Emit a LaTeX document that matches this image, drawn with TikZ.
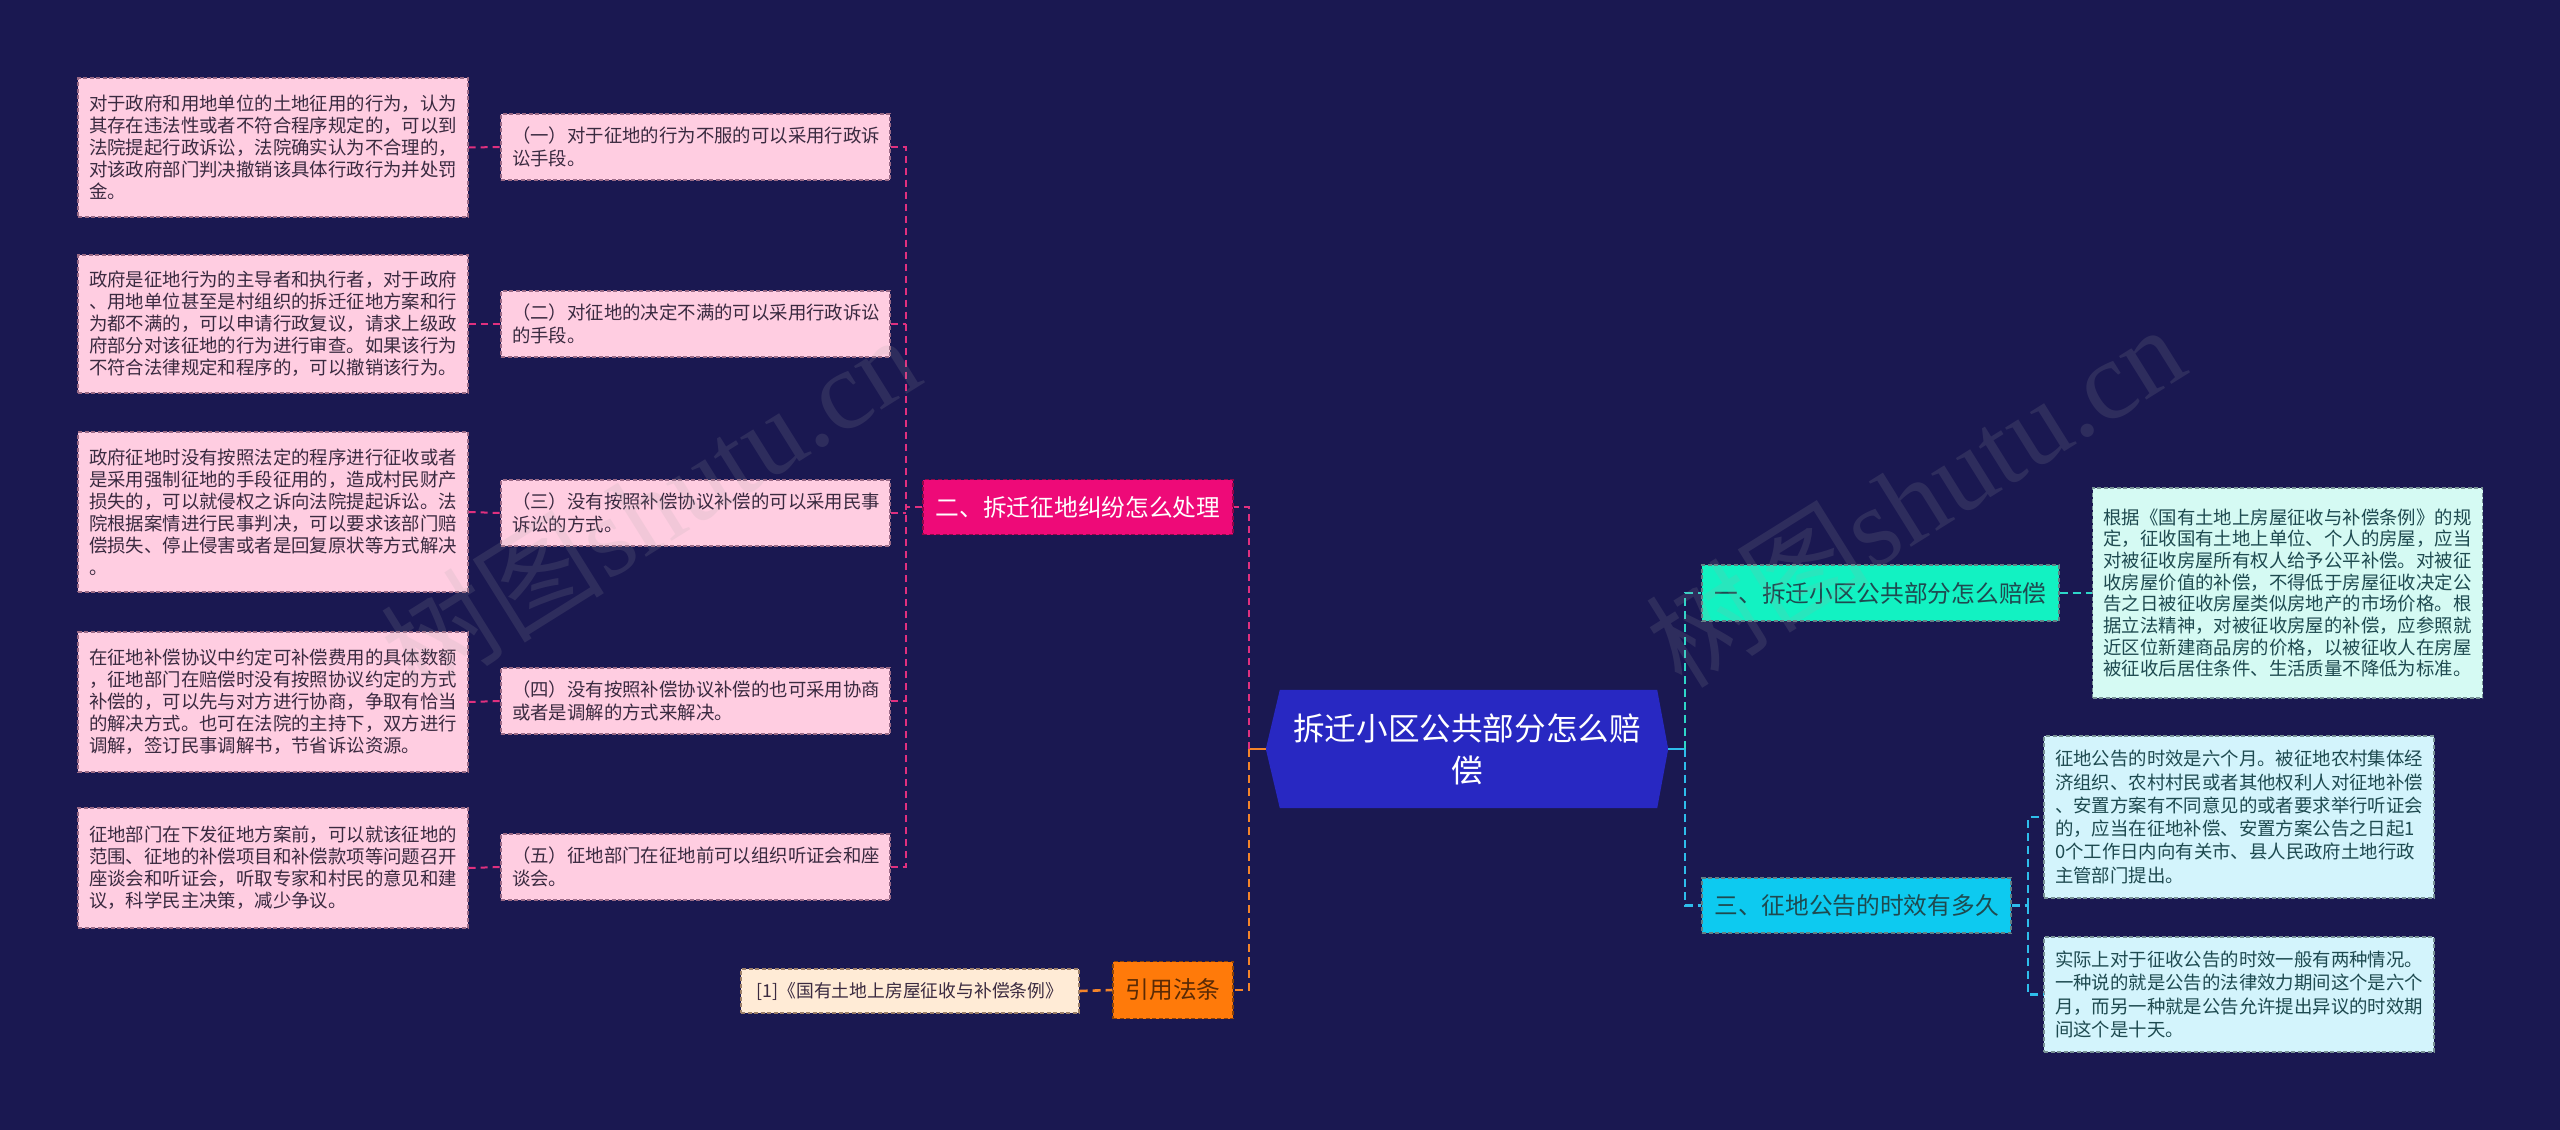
\documentclass[tikz,border=0pt]{standalone}
\usepackage{fontspec}
\setmainfont{Noto Sans CJK SC}
\newfontfamily\wmlatin{Liberation Serif}
\usetikzlibrary{calc}
\definecolor{bg}{HTML}{1A1851}
\definecolor{leafpink}{HTML}{FFCDE1}
\definecolor{leafpinkd}{HTML}{9A6A86}
\definecolor{pinktext}{HTML}{3A2A40}
\definecolor{pinkbranch}{HTML}{EE0A78}
\definecolor{pinkline}{HTML}{E0307F}
\definecolor{orangebox}{HTML}{FF7A0A}
\definecolor{orangeline}{HTML}{F4842A}
\definecolor{citefill}{HTML}{FFEBD6}
\definecolor{centerblue}{HTML}{2828C2}
\definecolor{tealbranch}{HTML}{12F2C2}
\definecolor{cyanbranch}{HTML}{0DCAF0}
\definecolor{tealline}{HTML}{2ED6C8}
\definecolor{cyanline}{HTML}{2EBDEB}
\definecolor{mintfill}{HTML}{D5FAF3}
\definecolor{skyfill}{HTML}{D3F4FC}
\definecolor{darkteal}{HTML}{1E4A50}
\definecolor{brownish}{HTML}{5A2A05}
\begin{document}
\begin{tikzpicture}[x=1pt,y=-1pt,
  box/.style={rectangle, line width=1.1pt, dash pattern=on 4pt off 2.5pt, anchor=center, inner ysep=0pt},
  leafL/.style={box, fill=leafpink, draw=leafpinkd, text=pinktext, align=left,
     text width=368pt, inner xsep=11pt, font=\fontsize{18.4}{22}\selectfont},
  midbox/.style={box, fill=leafpink, draw=leafpinkd, text=pinktext, align=left,
     text width=367pt, inner xsep=11pt, minimum height=66pt, font=\fontsize{18.4}{23}\selectfont},
  leafR/.style={box, draw=darkteal!60, text=darkteal, align=left,
     text width=368pt, inner xsep=11pt},
  branch/.style={box, inner xsep=0pt, align=center, font=\fontsize{23.7}{28}\selectfont},
  pline/.style={draw=pinkline, line width=2pt, dash pattern=on 7pt off 5pt},
  oline/.style={draw=orangeline, line width=2.6pt, dash pattern=on 8pt off 5pt},
  tline/.style={draw=tealline, line width=2.4pt, dash pattern=on 8pt off 5pt},
  cline/.style={draw=cyanline, line width=2.4pt, dash pattern=on 8pt off 5pt},
  wm/.style={rotate=32, opacity=0.15, text=gray!70, inner sep=0pt, font=\fontsize{112}{112}\selectfont}
]
\fill[bg] (0,0) rectangle (2560,1130);
\useasboundingbox (0,0) rectangle (2560,1130);

% ---------- left leaves ----------
\node[leafL, minimum height=139pt] (L1) at (273,147.5) {对于政府和用地单位的土地征用的行为，认为\\其存在违法性或者不符合程序规定的，可以到\\法院提起行政诉讼，法院确实认为不合理的，\\对该政府部门判决撤销该具体行政行为并处罚\\金。};
\node[leafL, minimum height=138pt] (L2) at (273,324) {政府是征地行为的主导者和执行者，对于政府\\、用地单位甚至是村组织的拆迁征地方案和行\\为都不满的，可以申请行政复议，请求上级政\\府部分对该征地的行为进行审查。如果该行为\\不符合法律规定和程序的，可以撤销该行为。};
\node[leafL, minimum height=160pt] (L3) at (273,512) {政府征地时没有按照法定的程序进行征收或者\\是采用强制征地的手段征用的，造成村民财产\\损失的，可以就侵权之诉向法院提起诉讼。法\\院根据案情进行民事判决，可以要求该部门赔\\偿损失、停止侵害或者是回复原状等方式解决\\。};
\node[leafL, minimum height=140pt] (L4) at (273,702) {在征地补偿协议中约定可补偿费用的具体数额\\，征地部门在赔偿时没有按照协议约定的方式\\补偿的，可以先与对方进行协商，争取有恰当\\的解决方式。也可在法院的主持下，双方进行\\调解，签订民事调解书，节省诉讼资源。};
\node[leafL, minimum height=120pt] (L5) at (273,868) {征地部门在下发征地方案前，可以就该征地的\\范围、征地的补偿项目和补偿款项等问题召开\\座谈会和听证会，听取专家和村民的意见和建\\议，科学民主决策，减少争议。};

% ---------- middle boxes ----------
\node[midbox] (M1) at (695.5,147) {（一）对于征地的行为不服的可以采用行政诉\\讼手段。};
\node[midbox] (M2) at (695.5,324) {（二）对征地的决定不满的可以采用行政诉讼\\的手段。};
\node[midbox] (M3) at (695.5,513) {（三）没有按照补偿协议补偿的可以采用民事\\诉讼的方式。};
\node[midbox] (M4) at (695.5,701) {（四）没有按照补偿协议补偿的也可采用协商\\或者是调解的方式来解决。};
\node[midbox] (M5) at (695.5,867) {（五）征地部门在征地前可以组织听证会和座\\谈会。};

% ---------- left branches ----------
\node[branch, fill=pinkbranch, draw=pinkbranch!60!black, text=white, minimum width=310pt, minimum height=55pt] (B2) at (1078,507) {二、拆迁征地纠纷怎么处理};
\node[branch, fill=orangebox, draw=orangebox!55!black, text=brownish, minimum width=120pt, minimum height=57pt] (B4) at (1173,990) {引用法条};
\node[box, fill=citefill, draw=brownish!60, text=pinktext, minimum width=338pt, minimum height=44pt, inner xsep=0pt, font=\fontsize{17.8}{22}\selectfont] (C) at (910,991) {[1]《国有土地上房屋征收与补偿条例》};

% ---------- center ----------
\node[minimum width=402pt, minimum height=118pt, inner sep=0pt] (root) at (1467,749) {};
\fill[centerblue] (root.west) -- ($(root.north west)+(14,0)$) -- ($(root.north east)+(-11,0)$) -- (root.east) -- ($(root.south east)+(-11,0)$) -- ($(root.south west)+(14,0)$) -- cycle;
\node[text=white, align=center, font=\fontsize{31.6}{42}\selectfont] (roottext) at (root.center) {拆迁小区公共部分怎么赔\\偿};

% ---------- right branches ----------
\node[branch, fill=tealbranch, draw=darkteal!70, text=darkteal, minimum width=357pt, minimum height=56pt] (B1) at (1880.5,593) {一、拆迁小区公共部分怎么赔偿};
\node[branch, fill=cyanbranch, draw=darkteal!70, text=darkteal, minimum width=309pt, minimum height=55pt] (B3) at (1856.5,905.5) {三、征地公告的时效有多久};

% ---------- right leaves ----------
\node[leafR, fill=mintfill, minimum height=210pt, font=\fontsize{18.4}{21.7}\selectfont] (R1) at (2287.5,593) {根据《国有土地上房屋征收与补偿条例》的规\\定，征收国有土地上单位、个人的房屋，应当\\对被征收房屋所有权人给予公平补偿。对被征\\收房屋价值的补偿，不得低于房屋征收决定公\\告之日被征收房屋类似房地产的市场价格。根\\据立法精神，对被征收房屋的补偿，应参照就\\近区位新建商品房的价格，以被征收人在房屋\\被征收后居住条件、生活质量不降低为标准。};
\node[leafR, fill=skyfill, minimum height=162pt, font=\fontsize{18.4}{23.3}\selectfont] (R2) at (2239,817) {征地公告的时效是六个月。被征地农村集体经\\济组织、农村村民或者其他权利人对征地补偿\\、安置方案有不同意见的或者要求举行听证会\\的，应当在征地补偿、安置方案公告之日起1\\0个工作日内向有关市、县人民政府土地行政\\主管部门提出。};
\node[leafR, fill=skyfill, minimum height=115pt, font=\fontsize{18.4}{23.3}\selectfont] (R3) at (2239,994.5) {实际上对于征收公告的时效一般有两种情况。\\一种说的就是公告的法律效力期间这个是六个\\月，而另一种就是公告允许提出异议的时效期\\间这个是十天。};

% ---------- junction coordinates ----------
\coordinate (jm) at (906,507);
\coordinate (jl) at (1249,749);
\coordinate (jr) at (1685,749);
\coordinate (jb) at (2028,905.5);

% ---------- connectors ----------
\draw[pline] (L1.east) -- (M1.west);
\draw[pline] (L2.east) -- (M2.west);
\draw[pline] (L3.east) -- (M3.west);
\draw[pline] (L4.east) -- (M4.west);
\draw[pline] (L5.east) -- (M5.west);
\draw[pline] (B2.west) -- (jm);
\draw[pline] (M1.east) -| (jm);
\draw[pline] (M5.east) -| (jm);
\draw[pline] (M2.east) -- (M2.east -| jm);
\draw[pline] (M3.east) -- (M3.east -| jm);
\draw[pline] (M4.east) -- (M4.east -| jm);
\draw[draw=orangeline, line width=2.6pt] (root.west) -- (jl);
\draw[pline] (jl) |- (B2.east);
\draw[oline] (jl) |- (B4.east);
\draw[oline] (C.east) -- (B4.west);
\draw[draw=cyanline, line width=2.6pt] (root.east) -- (jr);
\draw[tline] (jr) |- (B1.west);
\draw[cline] (jr) |- (B3.west);
\draw[tline] (B1.east) -- (R1.west);
\draw[cline] (B3.east) -- (jb);
\draw[cline] (jb) |- (R2.west);
\draw[cline] (jb) |- (R3.west);

% ---------- watermarks ----------
\node[wm] (wm1) at (650,505) {树图{\wmlatin shutu.cn}};
\node[wm] (wm2) at (1915,495) {树图{\wmlatin shutu.cn}};
\end{tikzpicture}
\end{document}
